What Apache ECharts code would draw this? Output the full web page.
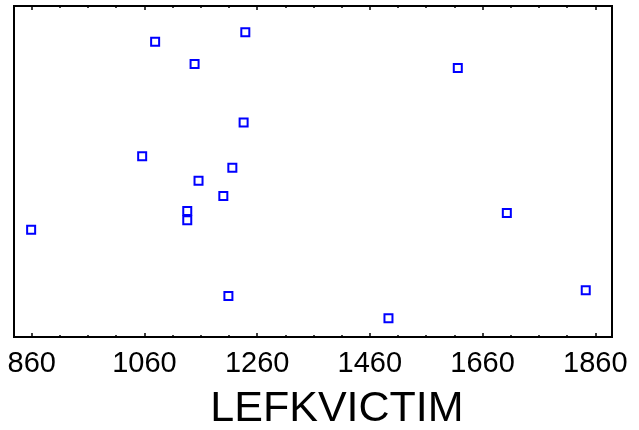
<!DOCTYPE html>
<html>
<head>
<meta charset="utf-8">
<script src="https://cdn.jsdelivr.net/npm/echarts@6/dist/echarts.min.js"></script>
<style>
  html, body { margin: 0; padding: 0; background: #fff; }
  #chart { width: 639px; height: 430px; }
</style>
</head>
<body>
<div id="chart"></div>
<script>
// values (y has no scale, so 0..100 is used)
let xValues = [1079, 1239, 1149, 1616, 1236, 1056, 1216, 1156, 1200, 1136, 1136, 1703, 859, 1209, 1843, 1493];
let yValues = [89.2, 92.1, 82.5, 81.3, 64.8, 54.6, 51.1, 47.2, 42.6, 38.1, 35.3, 37.5, 32.4, 12.4, 14.1, 5.7];
let majorTicks = [860, 1060, 1260, 1460, 1660, 1860];
let minorTicks = [910, 960, 1010, 1110, 1160, 1210, 1310, 1360, 1410, 1510, 1560, 1610, 1710, 1760, 1810];
let xName = "LEFKVICTIM";
let xMin = 828.6;
let xMax = 1889.6;

let chart = echarts.init(document.getElementById("chart"));

let points = xValues.map(function (x, i) {
  return [x, yValues[i]];
});

function tickAxis(pos, values, len, withLabels) {
  return {
    type: "value",
    position: pos,
    min: xMin,
    max: xMax,
    axisLine: { show: false },
    splitLine: { show: false },
    axisTick: {
      show: true,
      inside: true,
      length: len,
      customValues: values,
      lineStyle: { color: "#000", width: 1.5 },
    },
    axisLabel: withLabels
      ? {
          show: true,
          customValues: majorTicks,
          margin: 12,
          color: "#000",
          fontSize: 29,
          fontFamily: "Liberation Sans, Arial, sans-serif",
          formatter: function (v) {
            return String(Math.round(v));
          },
        }
      : { show: false },
  };
}

let xMain = tickAxis("bottom", majorTicks, 4, true);
xMain.name = xName;
xMain.nameLocation = "middle";
xMain.nameGap = 51;
xMain.nameTextStyle = {
  color: "#000",
  fontSize: 43,
  fontFamily: "Liberation Sans, Arial, sans-serif",
  padding: [0, 0, 0, 48],
};

let option = {
  animation: false,
  backgroundColor: "#fff",
  grid: {
    left: 14,
    right: 27,
    top: 6,
    bottom: 93,
    outerBoundsMode: "none",
    containLabel: false,
    show: true,
    borderColor: "#000",
    borderWidth: 2,
    backgroundColor: "transparent",
  },
  xAxis: [
    xMain,
    tickAxis("bottom", minorTicks, 2, false),
    tickAxis("top", majorTicks, 4, false),
    tickAxis("top", minorTicks, 2, false),
  ],
  yAxis: {
    type: "value",
    min: 0,
    max: 100,
    axisLine: { show: false },
    axisTick: { show: false },
    axisLabel: { show: false },
    splitLine: { show: false },
  },
  series: [
    {
      type: "scatter",
      xAxisIndex: 0,
      symbol: "rect",
      symbolSize: 8,
      itemStyle: {
        color: "#fff",
        borderColor: "#0000ff",
        borderWidth: 2,
        opacity: 1,
      },
      data: points,
    },
  ],
};
chart.setOption(option, true);
</script>
</body>
</html>
